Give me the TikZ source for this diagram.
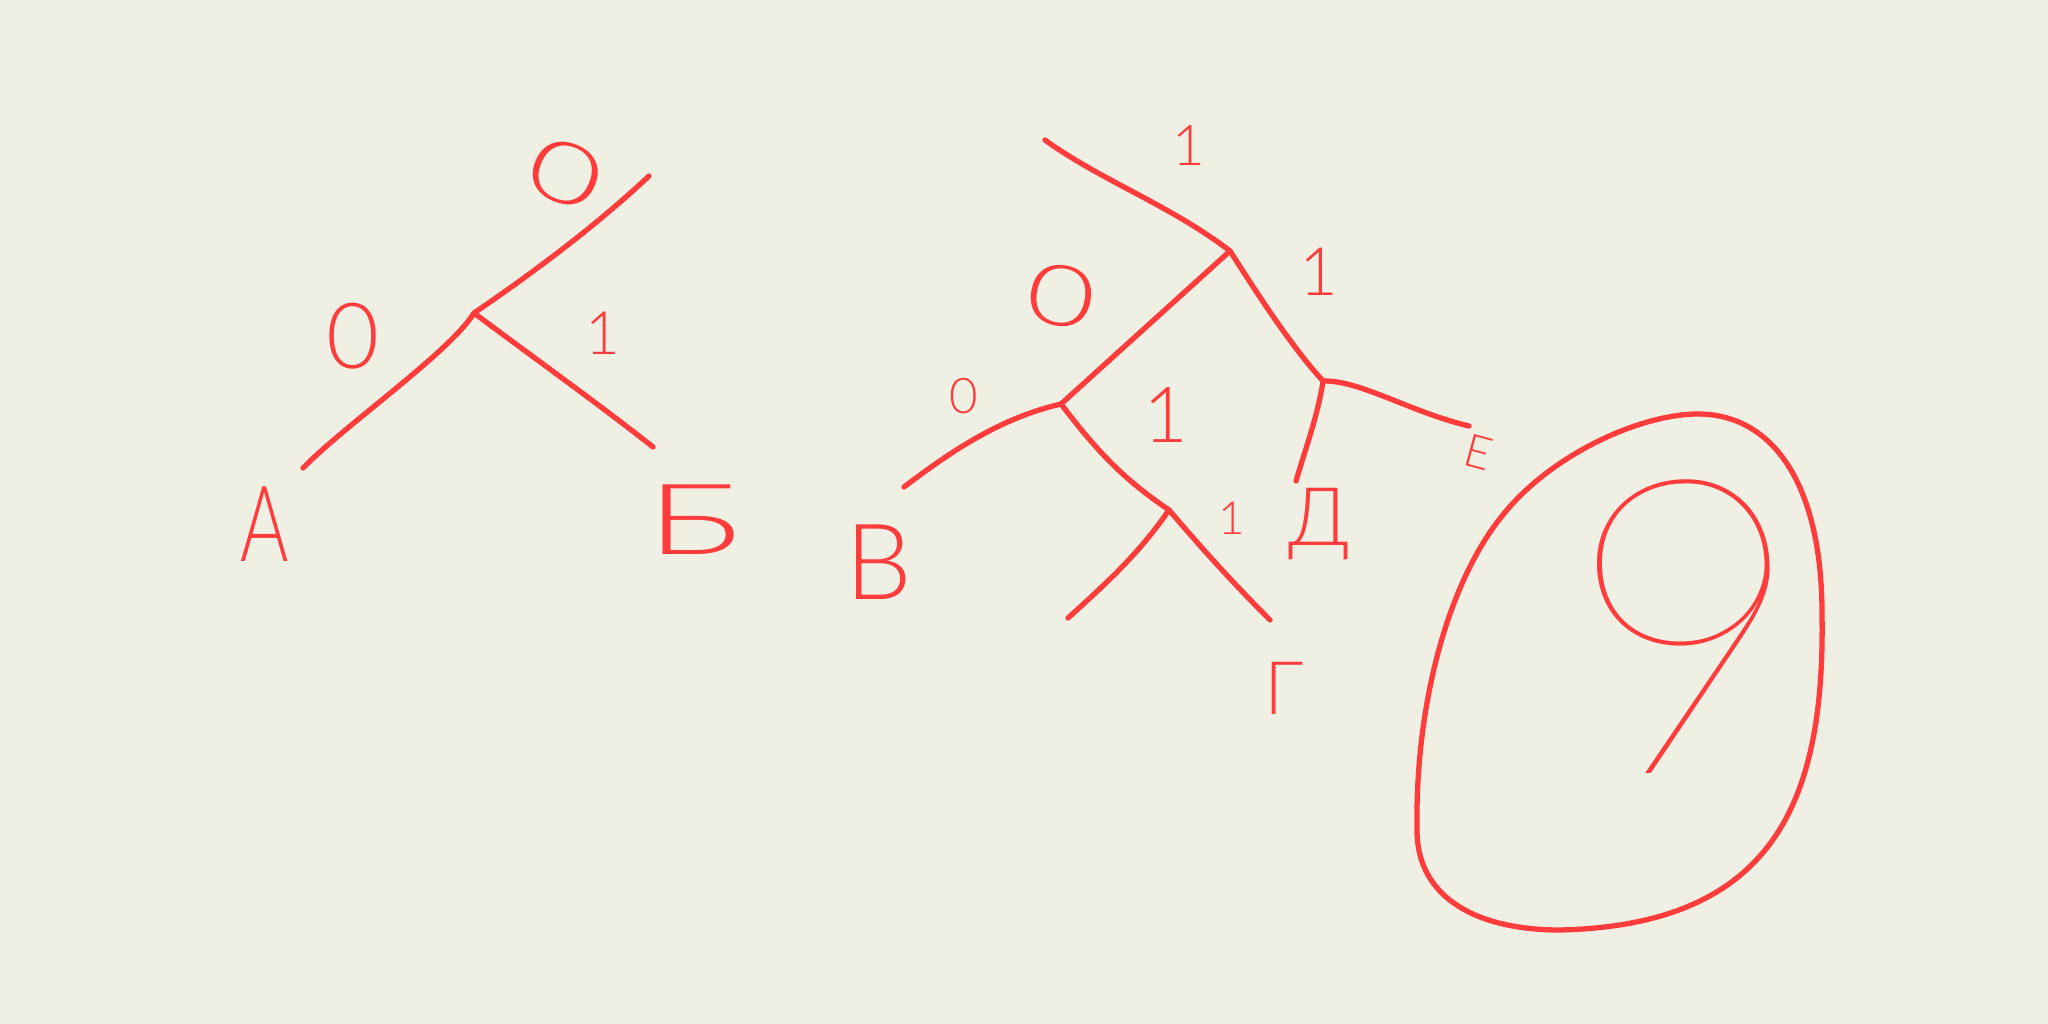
\documentclass[tikz,border=0pt]{standalone}
\usepackage{fontspec}
\newfontfamily\handf{Lato Light}
\newfontfamily\thinf{Lato Thin}
\definecolor{ink}{HTML}{FF3B3B}
\definecolor{paper}{HTML}{EFF0E3}
\newcommand{\fs}[1]{\fontsize{#1}{#1}\selectfont}
\begin{document}
\begin{tikzpicture}[x=0.01cm,y=-0.01cm,
  stroke/.style={draw=ink,line width=1.5pt,line cap=round,line join=round},
  lbl/.style={text=ink,font=\handf,inner sep=0pt}]
\fill[paper] (0,0) rectangle (2048,1024);
\useasboundingbox (0,0) rectangle (2048,1024);

% ---------- left tree ----------
\coordinate (J1) at (474,313);
\coordinate (U1) at (649,176);
\coordinate (LA) at (303,468);
\coordinate (LB) at (653,447);
\draw[stroke] (LA) .. controls (345,425) and (450,352) .. (J1);
\draw[stroke] (J1) .. controls (540,268) and (600,222) .. (U1);
\draw[stroke] (J1) .. controls (530,355) and (600,405) .. (LB);

\node[lbl,font=\handf\fs{26}] (l0a) at (353,336) {0};
\node[lbl,font=\handf\fs{24},rotate=-22,xscale=1.5] (l0b) at (566,174) {0};
\node[lbl,font=\handf\fs{17}] (l1a) at (603,333) {1};
\node[lbl,font=\handf\fs{30},xscale=0.7] (nA) at (265,524) {А};
\node[lbl,font=\handf\fs{28},xscale=1.6] (nB) at (694,520) {Б};

% ---------- middle tree ----------
\coordinate (T0) at (1045,140);
\coordinate (J2) at (1230,251);
\coordinate (J3) at (1061,404);
\coordinate (J4) at (1323,381);
\coordinate (J5) at (1169,510);
\coordinate (LV) at (904,487);
\coordinate (LX) at (1068,618);
\coordinate (LG) at (1270,620);
\coordinate (LD) at (1296,481);
\coordinate (LE) at (1469,426);

\draw[stroke] (T0) .. controls (1100,180) and (1170,205) .. (J2);
\draw[stroke] (J2) -- (J3);
\draw[stroke] (J2) .. controls (1255,290) and (1290,345) .. (J4);
\draw[stroke] (J3) .. controls (1000,418) and (950,452) .. (LV);
\draw[stroke] (J3) .. controls (1100,455) and (1125,480) .. (J5);
\draw[stroke] (J5) .. controls (1140,552) and (1110,580) .. (LX);
\draw[stroke] (J5) .. controls (1210,558) and (1240,590) .. (LG);
\draw[stroke] (J4) .. controls (1318,415) and (1305,450) .. (LD);
\draw[stroke] (J4) .. controls (1360,380) and (1410,412) .. (LE);

\node[lbl,font=\handf\fs{16}] (m1a) at (1189,146) {1};
\node[lbl,font=\handf\fs{19}] (m1b) at (1319,272) {1};
\node[lbl,font=\handf\fs{24},rotate=-10,xscale=1.4] (m0a) at (1061,296) {0};
\node[lbl,font=\handf\fs{14}] (m0b) at (964,396) {0};
\node[lbl,font=\handf\fs{22}] (m1c) at (1166,415) {1};
\node[lbl,font=\handf\fs{13}] (m1d) at (1232,518) {1};
\node[lbl,font=\handf\fs{30}] (nV) at (879,562) {В};
\node[lbl,font=\handf\fs{21}] (nG) at (1284,688) {Г};
\node[lbl,font=\handf\fs{23}] (nD) at (1319,524) {Д};
\node[lbl,font=\handf\fs{13},rotate=-15] (nE) at (1478,452) {Е};

% ---------- big nine ----------
\coordinate (P1) at (1698,414);
\coordinate (P2) at (1822,614);
\coordinate (P3) at (1560,930);
\coordinate (P4) at (1417,830);
\coordinate (P5) at (1502,516);
\draw[stroke] (P1) .. controls (1770,414) and (1822,480) .. (P2)
  .. controls (1825,800) and (1775,925) .. (P3)
  .. controls (1480,930) and (1417,900) .. (P4)
  .. controls (1415,700) and (1450,580) .. (P5)
  .. controls (1550,455) and (1640,414) .. (P1) -- cycle;
\node[lbl,font=\thinf\fs{118}] (nine) at (1686,627) {9};
\end{tikzpicture}
\end{document}
